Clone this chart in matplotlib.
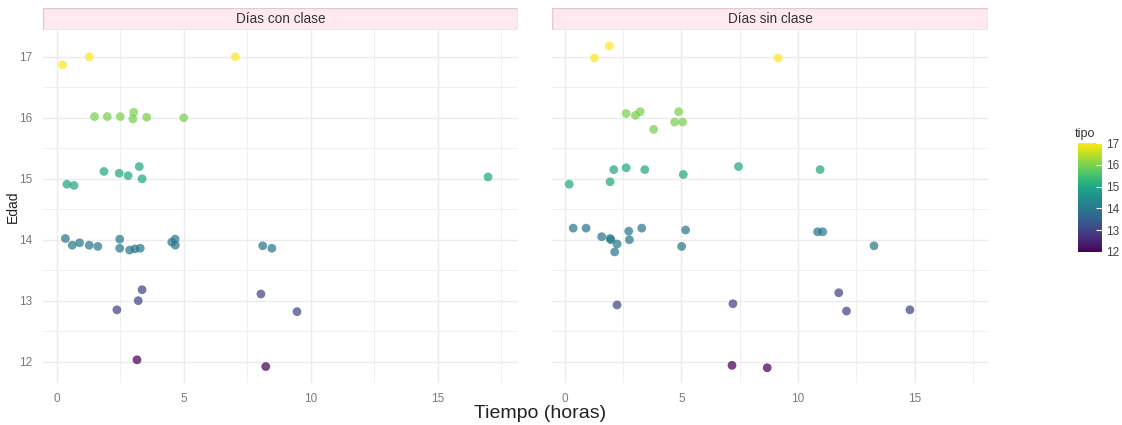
import numpy as np
import matplotlib
matplotlib.use("Agg")
from matplotlib import pyplot as plt
from matplotlib.colors import Normalize
from matplotlib.cm import ScalarMappable
from matplotlib.patches import Rectangle

# Días con clase
con_tiempo = [0.22, 1.27, 7.02,
              1.48, 1.98, 2.49, 3.02, 2.99, 3.53, 4.99,
              0.39, 0.67, 1.85, 2.45, 2.80, 3.24, 3.35, 16.97,
              0.33, 0.60, 0.89, 1.27, 1.61, 2.47, 2.47, 2.86, 3.07, 3.28, 4.52, 4.65, 4.66, 8.10, 8.46,
              2.36, 3.20, 3.35, 8.03, 9.45,
              3.15, 8.22]
con_edad = [16.87, 17.00, 17.00,
            16.02, 16.02, 16.02, 16.09, 15.98, 16.01, 16.00,
            14.91, 14.89, 15.12, 15.09, 15.05, 15.20, 15.00, 15.03,
            14.02, 13.91, 13.95, 13.91, 13.89, 14.01, 13.86, 13.83, 13.85, 13.86, 13.96, 14.01, 13.91, 13.90, 13.86,
            12.85, 13.00, 13.18, 13.11, 12.82,
            12.03, 11.92]
con_tipo = [17] * 3 + [16] * 7 + [15] * 8 + [14] * 15 + [13] * 5 + [12] * 2

# Días sin clase
sin_tiempo = [1.27, 1.91, 9.15,
              2.63, 3.03, 3.23, 3.81, 4.71, 4.88, 5.05,
              0.19, 1.94, 2.10, 2.63, 3.43, 5.08, 7.45, 10.95,
              0.36, 0.91, 1.58, 1.94, 1.98, 2.24, 2.14, 2.74, 2.77, 3.30, 5.01, 5.18, 10.84, 11.06, 13.26,
              2.24, 7.21, 11.75, 12.08, 14.80,
              7.17, 8.68]
sin_edad = [16.98, 17.18, 16.98,
            16.07, 16.04, 16.10, 15.81, 15.93, 16.10, 15.93,
            14.91, 14.95, 15.15, 15.18, 15.15, 15.07, 15.20, 15.15,
            14.19, 14.19, 14.05, 14.02, 14.00, 13.93, 13.80, 14.14, 14.00, 14.19, 13.89, 14.16, 14.13, 14.13, 13.90,
            12.93, 12.95, 13.13, 12.83, 12.85,
            11.94, 11.90]
sin_tipo = [17] * 3 + [16] * 7 + [15] * 8 + [14] * 15 + [13] * 5 + [12] * 2

paneles = [("Días con clase", con_tiempo, con_edad, con_tipo),
           ("Días sin clase", sin_tiempo, sin_edad, sin_tipo)]

W, H = 1122, 425
fig = plt.figure(figsize=(W / 100, H / 100), dpi=100)
plt.rcParams['font.family'] = ['Liberation Sans', 'DejaVu Sans']

norm = Normalize(12, 17)
cmap = plt.get_cmap('viridis')

# posiciones en pixeles (x0, x1) de cada panel
px = [(43, 518), (552, 988)]
top, bot = 30, 383
for i, (titulo, t, e, tp) in enumerate(paneles):
    x0, x1 = px[i]
    ax = fig.add_axes([x0 / W, 1 - bot / H, (x1 - x0) / W, (bot - top) / H])
    ax.scatter(t, e, c=tp, cmap=cmap, norm=norm, s=40, alpha=0.72, linewidths=0, zorder=3)
    ax.set_xlim(-0.55, 18.15)
    ax.set_ylim(11.65, 17.44)
    ax.set_xticks([0, 5, 10, 15])
    ax.set_yticks([12, 13, 14, 15, 16, 17])
    ax.set_xticks([2.5, 7.5, 12.5, 17.5], minor=True)
    ax.set_yticks([12.5, 13.5, 14.5, 15.5, 16.5], minor=True)
    ax.grid(which='major', color='#ebebeb', linewidth=1.0)
    ax.grid(which='minor', color='#f0f0f0', linewidth=0.7)
    ax.set_axisbelow(True)
    for s in ax.spines.values():
        s.set_visible(False)
    ax.tick_params(which='both', length=0, labelsize=8.5, labelcolor='#7a7a7a', pad=8)
    ax.tick_params(axis='x', pad=7)
    if i == 1:
        ax.tick_params(labelleft=False)
    # franja del facet
    sax = fig.add_axes([x0 / W, 1 - 30 / H, (x1 - x0) / W, 22 / H])
    sax.add_patch(Rectangle((0, 0), 1, 1, transform=sax.transAxes, facecolor='#fde9ef',
                            edgecolor='#e5c7d0', linewidth=1))
    sax.text(0.5, 0.5, titulo, ha='center', va='center', fontsize=9.8, color='#333333')
    sax.set_axis_off()

fig.text(13 / W, 1 - 207 / H, "Edad", ha='center', va='center', rotation=90, fontsize=10, color='#222222')
fig.text(540 / W, 1 - 413 / H, "Tiempo (horas)", ha='center', va='center', fontsize=14, color='#222222')

# barra de color
cax = fig.add_axes([1078 / W, 1 - 252 / H, 24 / W, 109 / H])
cb = fig.colorbar(ScalarMappable(norm=norm, cmap=cmap), cax=cax)
cb.outline.set_visible(False)
cb.set_ticks([12, 13, 14, 15, 16, 17])
cax.tick_params(length=4, color='white', labelsize=8.5, labelcolor='#444444', pad=3, direction='in')
fig.text(1075 / W, 1 - 134 / H, "tipo", ha='left', va='center', fontsize=9, color='#333333')

plt.savefig("out.png", dpi=100)
